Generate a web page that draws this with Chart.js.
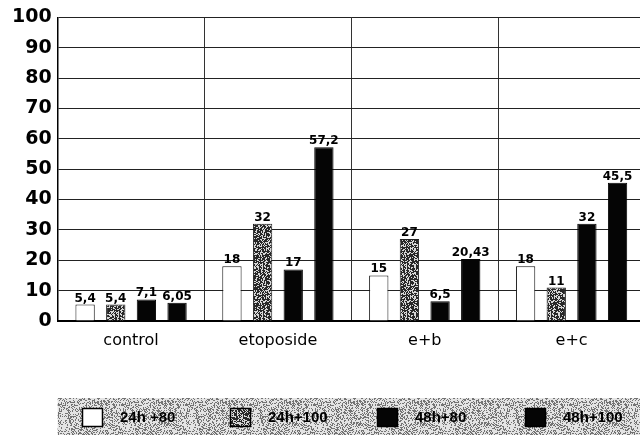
<!DOCTYPE html>
<html>
<head>
<meta charset="utf-8">
<script src="https://cdn.jsdelivr.net/npm/chart.js@4.4.0/dist/chart.umd.min.js"></script>
<style>
html,body{margin:0;padding:0;background:#fff;overflow:hidden;}
#wrap{width:640px;height:435px;position:relative;overflow:hidden;}
</style>
</head>
<body>
<div id="wrap"><canvas id="c" width="645" height="435"></canvas></div>
<script>
const categories = ["control", "etoposide", "e+b", "e+c"];
const seriesNames = ["24h +80", "24h+100", "48h+80", "48h+100"];
const s24h80 = [5.4, 18, 15, 18];
const s24h100 = [5.4, 32, 27, 11];
const s48h80 = [7.1, 17, 6.5, 32];
const s48h100 = [6.05, 57.2, 20.43, 45.5];
const yTicks = [0, 10, 20, 30, 40, 50, 60, 70, 80, 90, 100];

function hash(x, y, seed) {
  let h = Math.imul(x, 374761393) + Math.imul(y, 668265263) + Math.imul(seed, 2246822519);
  h = Math.imul(h ^ (h >>> 13), 1274126177);
  h = h ^ (h >>> 16);
  return (h >>> 0) % 256;
}
function noisePattern(ctx, size, seed, darkProb, dark, light) {
  const c = document.createElement('canvas');
  c.width = size; c.height = size;
  const g = c.getContext('2d');
  const img = g.createImageData(size, size);
  for (let y = 0; y < size; y++) {
    for (let x = 0; x < size; x++) {
      const v = hash(x, y, seed) / 255;
      const col = v < darkProb ? dark : light;
      const i = (y * size + x) * 4;
      img.data[i] = col; img.data[i+1] = col; img.data[i+2] = col; img.data[i+3] = 255;
    }
  }
  g.putImageData(img, 0, 0);
  return ctx.createPattern(c, 'repeat');
}

const canvas = document.getElementById('c');
const ctx = canvas.getContext('2d');
const stipple = noisePattern(ctx, 48, 7, 0.62, 40, 215);
const bandFill = noisePattern(ctx, 64, 3, 0.36, 115, 228);

const colors = ['#ffffff', stipple, '#050505', '#050505'];
const borders = ['#111', '#222', '#050505', '#050505'];
const dataSets = [s24h80, s24h100, s48h80, s48h100];

const labelPlugin = {
  id: 'valueLabels',
  afterDatasetsDraw(chart) {
    const c = chart.ctx;
    c.save();
    c.font = 'bold 12px "DejaVu Sans"';
    c.fillStyle = '#000';
    c.textAlign = 'center';
    c.textBaseline = 'alphabetic';
    chart.data.datasets.forEach((ds, di) => {
      const meta = chart.getDatasetMeta(di);
      meta.data.forEach((bar, i) => {
        const txt = String(ds.data[i]).replace('.', ',');
        c.fillText(txt, bar.x, bar.y - 3);
      });
    });
    c.restore();
  }
};

const legendPlugin = {
  id: 'bandLegend',
  afterDraw(chart) {
    const c = chart.ctx;
    const left = chart.chartArea.left;
    c.save();
    c.fillStyle = bandFill;
    c.fillRect(left, 398, chart.width - left, 37);
    const boxX = [82, 230, 377, 525];
    c.font = 'bold 15px "Liberation Sans"';
    c.textBaseline = 'middle';
    c.textAlign = 'left';
    chart.data.datasets.forEach((ds, i) => {
      c.fillStyle = ds.backgroundColor;
      c.fillRect(boxX[i], 408, 21, 19);
      c.strokeStyle = '#000';
      c.lineWidth = 1.5;
      c.strokeRect(boxX[i] + 0.5, 408.5, 20, 18);
      c.fillStyle = '#000';
      c.fillText(ds.label, boxX[i] + 38, 418);
    });
    c.restore();
  }
};

new Chart(canvas, {
  type: 'bar',
  data: {
    labels: categories,
    datasets: seriesNames.map((n, i) => ({
      label: n,
      data: dataSets[i],
      backgroundColor: colors[i],
      borderColor: borders[i],
      borderWidth: 1,
      categoryPercentage: 0.835,
      barPercentage: 0.63
    }))
  },
  options: {
    responsive: false,
    animation: false,
    devicePixelRatio: 1,
    layout: { padding: { left: 6, right: 0, top: 17, bottom: 0 } },
    plugins: { legend: { display: false }, tooltip: { enabled: false } },
    scales: {
      x: {
        grid: { offset: true, color: '#333', lineWidth: 1, drawTicks: false, tickBorderDash: [] },
        border: { display: true, color: '#000', width: 2 },
        ticks: { color: '#000', font: { family: 'DejaVu Sans', size: 16 }, padding: 10 },
        afterFit(scale) { scale.height = 114; }
      },
      y: {
        min: 0, max: 100,
        afterBuildTicks(scale) { scale.ticks = yTicks.map(v => ({ value: v })); },
        grid: { color: '#222', lineWidth: 1, drawTicks: false },
        border: { display: true, color: '#000', width: 1.5 },
        ticks: { color: '#000', font: { family: 'DejaVu Sans', size: 19, weight: 'bold' }, padding: 6 }
      }
    }
  },
  plugins: [labelPlugin, legendPlugin]
});
</script>
</body>
</html>
